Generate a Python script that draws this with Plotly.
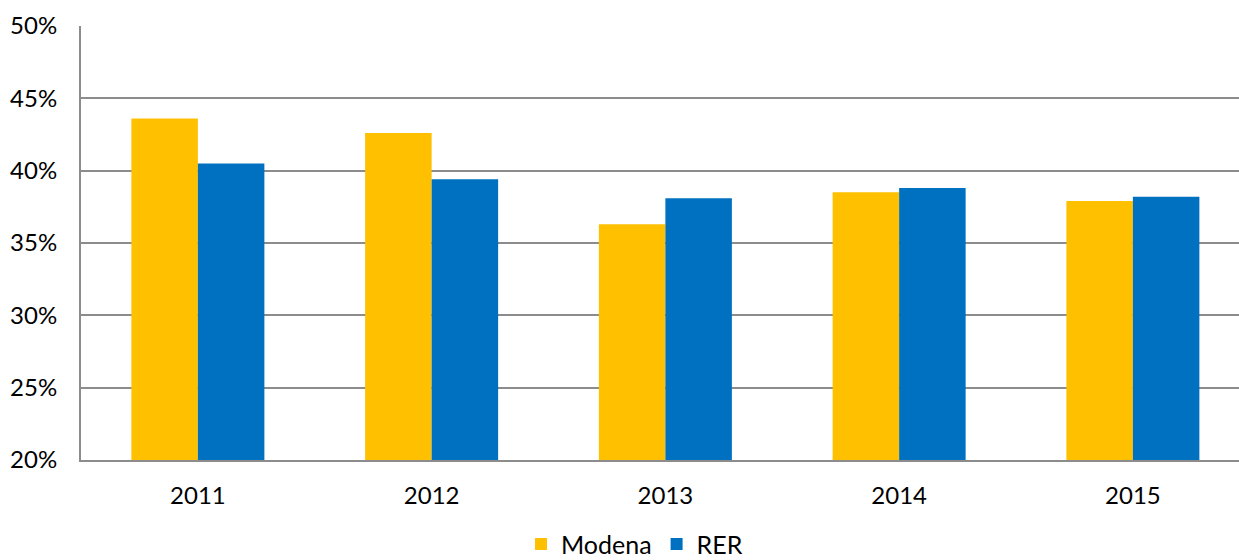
import plotly.graph_objects as go

years = ["2011", "2012", "2013", "2014", "2015"]
modena = [0.436, 0.426, 0.363, 0.385, 0.379]
rer = [0.405, 0.394, 0.381, 0.388, 0.382]

FONT = "Lato, Calibri, 'Liberation Sans', sans-serif"
GRID = "#8c8c8c"

fig = go.Figure()
fig.add_trace(go.Bar(name="Modena", x=years, y=modena,
                     marker=dict(color="#FFC000", line=dict(width=0))))
fig.add_trace(go.Bar(name="RER", x=years, y=rer,
                     marker=dict(color="#0070C0", line=dict(width=0))))

fig.update_layout(
    width=1239, height=560,
    margin=dict(l=81, r=0, t=25.5, b=99.5, autoexpand=False),
    paper_bgcolor="white", plot_bgcolor="white",
    barmode="group", bargap=0.431, bargroupgap=0,
    font=dict(family=FONT, size=24, color="#000000"),
    showlegend=True,
    legend=dict(orientation="h", x=0.478, xanchor="center",
                yref="container", y=0.028, yanchor="middle",
                font=dict(family=FONT, size=25), itemwidth=30, traceorder="normal",
                bgcolor="rgba(0,0,0,0)"),
)
fig.update_xaxes(
    type="category", range=[-0.5, 4.454],
    showline=True, linecolor=GRID, linewidth=2,
    showgrid=False, ticks="", ticklabelstandoff=13,
    tickfont=dict(family=FONT, size=24),
)
fig.update_yaxes(
    range=[0.2, 0.5], dtick=0.05, tick0=0.2, tickformat=".0%",
    showline=True, linecolor=GRID, linewidth=2,
    showgrid=True, gridcolor=GRID, gridwidth=2,
    zeroline=False, ticks="", ticklabelstandoff=17,
    tickfont=dict(family=FONT, size=24),
)

fig.write_html("out.html")
